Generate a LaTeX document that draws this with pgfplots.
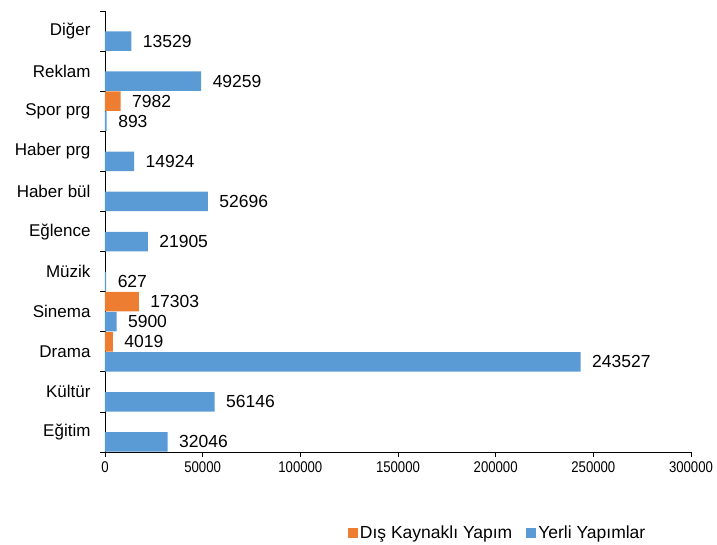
\documentclass[border=0pt]{standalone}
\usepackage{pgfplots}
\pgfplotsset{compat=1.18}
\usepackage{fontspec}
\setmainfont{Liberation Sans}
\definecolor{myblue}{HTML}{5B9BD5}
\definecolor{myorange}{HTML}{ED7D31}
\begin{document}
\begin{tikzpicture}
\useasboundingbox (-105pt,-92pt) rectangle (612pt,452pt);
\begin{axis}[
  scale only axis, width=586pt, height=441pt,
  xbar, bar width=19.5pt,
  xmin=0, xmax=300000, ymin=-0.5, ymax=10.5,
  axis x line*=bottom, axis y line*=left,
  axis line style={-, black, line width=0.8pt},
  xtick={0,50000,100000,150000,200000,250000,300000},
  scaled x ticks=false,
  xticklabel={\pgfmathprintnumber[fixed,precision=0,set thousands separator={},assume math mode=true]{\tick}},
  xticklabel style={font=\fontsize{15.5}{15.5}\selectfont, xscale=0.85, yshift=-1pt},
  tick align=outside,
  major tick length=5pt,
  tick style={black, line width=0.8pt},
  ytick={-0.5,0.5,1.5,2.5,3.5,4.5,5.5,6.5,7.5,8.5,9.5,10.5},
  yticklabels={},
  extra y ticks={0,1,2,3,4,5,6,7,8,9,10},
  extra y tick labels={Eğitim,Kültür,Drama,Sinema,Müzik,Eğlence,Haber bül,Haber prg,Spor prg,Reklam,Diğer},
  extra y tick style={major tick length=0pt, yticklabel style={font=\fontsize{17}{17}\selectfont, xshift=-11pt}},
  point meta=explicit symbolic,
  nodes near coords,
  every node near coord/.append style={anchor=west, xshift=8pt, font=\fontsize{17.5}{17.5}\selectfont, text=black},
  legend style={at={(0.67,-0.183)}, anchor=center, draw=none, legend columns=2,
    font=\fontsize{17.5}{17.5}\selectfont,
    /tikz/every even column/.append style={column sep=12pt}},
  legend image code/.code={\fill[#1] (0pt,-5pt) rectangle (10pt,5pt);},
]
\addplot[fill=myorange, draw=none, bar shift=10pt] table[x=x, y=y, meta=l] {
x y l
4019 2 4019
17303 3 17303
7982 8 7982
};
\addplot[fill=myblue, draw=none, bar shift=-10pt] table[x=x, y=y, meta=l] {
x y l
32046 0 32046
56146 1 56146
243527 2 243527
5900 3 5900
627 4 627
21905 5 21905
52696 6 52696
14924 7 14924
893 8 893
49259 9 49259
13529 10 13529
};
\legend{Dış Kaynaklı Yapım, Yerli Yapımlar}
\end{axis}
\end{tikzpicture}
\end{document}
